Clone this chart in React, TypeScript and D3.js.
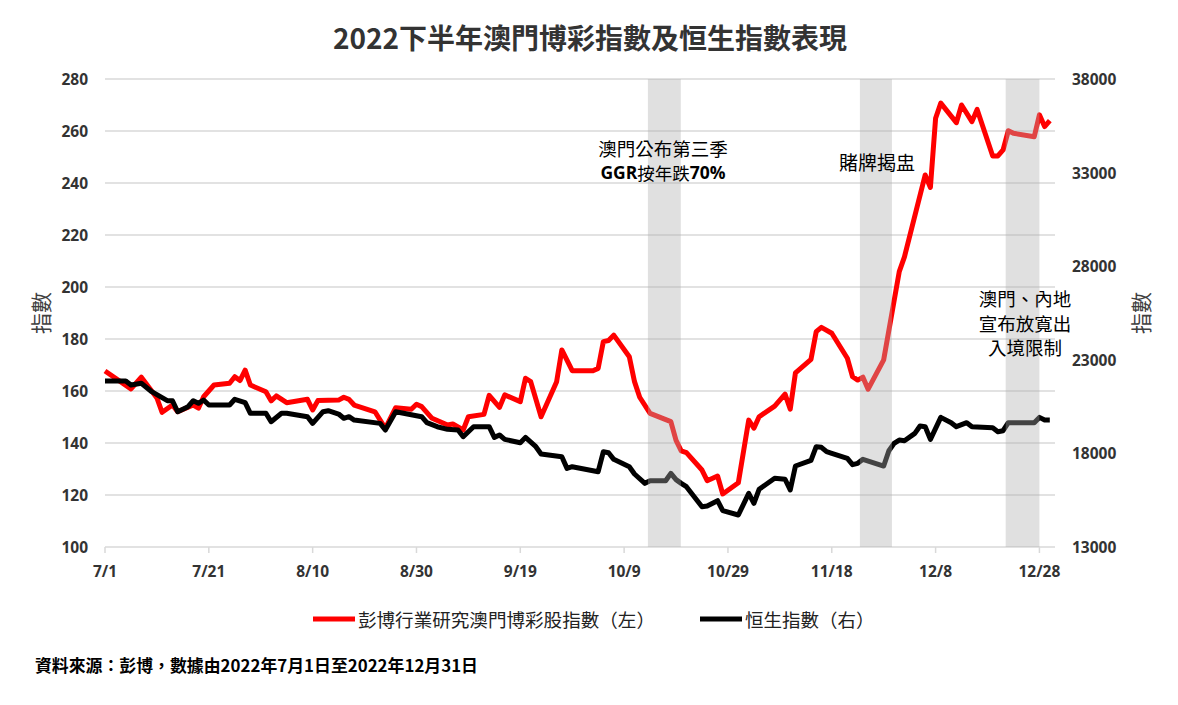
import React from 'react';
import * as d3 from 'd3';

// 彭博行業研究澳門博彩股指數 (left axis)
const gamingDates = [
  '07-01', '07-06', '07-08', '07-11', '07-12', '07-14', '07-15', '07-18', '07-19', '07-20',
  '07-22', '07-25', '07-26', '07-27', '07-28', '07-29', '08-01', '08-02', '08-03', '08-05',
  '08-09', '08-10', '08-11', '08-15', '08-16', '08-17', '08-18', '08-22', '08-24', '08-26',
  '08-29', '08-30', '08-31', '09-02', '09-05', '09-06', '09-08', '09-09', '09-12', '09-13',
  '09-15', '09-16', '09-19', '09-20', '09-21', '09-23', '09-26', '09-27', '09-29', '10-03',
  '10-04', '10-05', '10-06', '10-07', '10-10', '10-11', '10-12', '10-14', '10-18', '10-19',
  '10-20', '10-21', '10-24', '10-25', '10-27', '10-28', '10-31', '11-02', '11-03', '11-04',
  '11-07', '11-09', '11-10', '11-11', '11-14', '11-15', '11-16', '11-18', '11-21', '11-22',
  '11-23', '11-24', '11-25', '11-28', '12-01', '12-02', '12-06', '12-07', '12-08', '12-09',
  '12-12', '12-13', '12-15', '12-16', '12-19', '12-20', '12-21', '12-22', '12-23', '12-27',
  '12-28', '12-29', '12-30',
];
const gamingValues = [
  167.7, 160.8, 165.3, 157.3, 151.8, 154.6, 152.0, 154.6, 153.4, 157.8,
  162.3, 163.0, 165.5, 164.0, 168.0, 162.3, 159.7, 156.2, 158.1, 155.5,
  156.8, 152.7, 156.3, 156.5, 157.6, 156.8, 154.6, 152.0, 145.6, 153.6,
  153.0, 154.9, 154.0, 149.5, 146.9, 147.3, 145.0, 150.1, 151.0, 158.3,
  153.7, 158.5, 155.9, 164.9, 163.6, 150.1, 163.6, 175.8, 167.8, 167.8,
  168.7, 179.0, 179.4, 181.5, 173.2, 163.6, 157.6, 151.4, 148.2, 141.0,
  137.0, 136.3, 129.6, 125.5, 127.3, 120.4, 124.7, 148.8, 145.7, 150.1,
  154.2, 158.8, 153.0, 167.0, 172.2, 182.8, 184.5, 182.2, 172.6, 165.5,
  164.2, 165.3, 160.7, 172.0, 205.9, 211.6, 243.1, 238.3, 264.9, 270.7,
  263.2, 270.0, 263.6, 268.3, 250.4, 250.4, 252.7, 260.1, 259.1, 257.8,
  266.2, 261.7, 264.0,
];

// 恒生指數 (right axis)
const hsiDates = [
  '07-01', '07-05', '07-06', '07-08', '07-10', '07-13', '07-14', '07-15', '07-17', '07-18',
  '07-19', '07-20', '07-21', '07-25', '07-26', '07-28', '07-29', '08-01', '08-02', '08-04',
  '08-05', '08-09', '08-10', '08-12', '08-13', '08-15', '08-16', '08-17', '08-18', '08-23',
  '08-24', '08-26', '08-31', '09-01', '09-03', '09-05', '09-07', '09-08', '09-10', '09-13',
  '09-14', '09-15', '09-16', '09-19', '09-20', '09-22', '09-23', '09-27', '09-28', '09-29',
  '10-04', '10-05', '10-06', '10-07', '10-10', '10-11', '10-13', '10-14', '10-17', '10-18',
  '10-19', '10-20', '10-21', '10-24', '10-25', '10-27', '10-28', '10-31', '11-02', '11-03',
  '11-04', '11-07', '11-09', '11-10', '11-11', '11-14', '11-15', '11-16', '11-17', '11-18',
  '11-21', '11-22', '11-23', '11-24', '11-28', '11-29', '11-30', '12-01', '12-02', '12-04',
  '12-05', '12-06', '12-07', '12-09', '12-11', '12-12', '12-14', '12-15', '12-19', '12-20',
  '12-21', '12-22', '12-27', '12-28', '12-29', '12-30',
];
const hsiValues = [
  21867, 21867, 21654, 21744, 21296, 20815, 20815, 20227, 20494, 20815,
  20676, 20853, 20585, 20585, 20890, 20708, 20142, 20142, 19693, 20142,
  20142, 19960, 19604, 20227, 20280, 20104, 19875, 19960, 19783, 19604,
  19250, 20227, 19960, 19640, 19426, 19285, 19250, 18892, 19426, 19426,
  18856, 18982, 18748, 18572, 18856, 18358, 17967, 17823, 17200, 17290,
  17023, 18090, 18036, 17683, 17290, 16900, 16401, 16542, 16542, 16935,
  16600, 16400, 16221, 15153, 15189, 15473, 14939, 14709, 15868, 15334,
  16082, 16669, 16620, 16044, 17326, 17630, 18358, 18326, 18090, 18000,
  17738, 17400, 17470, 17683, 17326, 18143, 18539, 18715, 18679, 19070,
  19461, 19426, 18748, 19924, 19640, 19426, 19640, 19426, 19373, 19160,
  19213, 19640, 19640, 19924, 19783, 19783,
];

const leftTicks = [100, 120, 140, 160, 180, 200, 220, 240, 260, 280];
const rightTicks = [13000, 18000, 23000, 28000, 33000, 38000];
const xTickDates = ['07-01', '07-21', '08-10', '08-30', '09-19', '10-09', '10-29', '11-18', '12-08', '12-28'];

// shaded event windows
const bandStarts = ['10-13T14:00', '11-23T10:00', '12-21T12:00'];
const bandEnds = ['10-19T22:00', '11-29T14:00', '12-28T00:00'];

const title = '2022下半年澳門博彩指數及恒生指數表現';
const seriesNames = ['彭博行業研究澳門博彩股指數（左）', '恒生指數（右）'];
const source = '資料來源：彭博，數據由2022年7月1日至2022年12月31日';
const reopenNote = ['澳門、內地', '宣布放寬出', '入境限制'];

const parse = (s: string) => new Date(`2022-${s.includes('T') ? s : s + 'T00:00'}`);

const W = 1178;
const H = 705;
const cjk = '"Noto Sans CJK TC", "Noto Sans", sans-serif';
const num = '"Open Sans", "Noto Sans CJK TC", sans-serif';

export default function App() {
  const x = d3.scaleTime().domain([parse('07-01'), parse('12-31')]).range([105, 1055]);
  const yL = d3.scaleLinear().domain([100, 280]).range([547, 79]);
  const yR = d3.scaleLinear().domain([13000, 38000]).range([547, 79]);

  const gaming = gamingDates.map((d, i) => ({ date: parse(d), v: gamingValues[i] }));
  const hsi = hsiDates.map((d, i) => ({ date: parse(d), v: hsiValues[i] }));

  const gamingLine = d3.line<{ date: Date; v: number }>().x(d => x(d.date)).y(d => yL(d.v));
  const hsiLine = d3.line<{ date: Date; v: number }>().x(d => x(d.date)).y(d => yR(d.v));

  const [x0, x1] = x.range();

  return (
    <svg width={W} height={H} style={{ position: 'absolute', left: 0, top: 0, display: 'block', background: '#fff' }}>
      <text x={590} y={37} textAnchor="middle" dominantBaseline="central"
        fontFamily={cjk} fontWeight="bold" fontSize={28} fill="#333">{title}</text>

      {/* grid */}
      {leftTicks.map(t => (
        <line key={t} x1={x0} x2={x1} y1={yL(t)} y2={yL(t)} stroke="#d9d9d9" strokeWidth={1.5} />
      ))}
      {xTickDates.map(d => (
        <line key={d} x1={x(parse(d))} x2={x(parse(d))} y1={547} y2={553} stroke="#d9d9d9" strokeWidth={1.5} />
      ))}

      {/* left ticks */}
      {leftTicks.map(t => (
        <text key={t} x={88} y={yL(t)} textAnchor="end" dominantBaseline="central"
          fontFamily={num} fontWeight="bold" fontSize={15.5} fill="#333">{t}</text>
      ))}
      {/* right ticks */}
      {rightTicks.map(t => (
        <text key={t} x={1072} y={yR(t)} textAnchor="start" dominantBaseline="central"
          fontFamily={num} fontWeight="bold" fontSize={15.5} fill="#333">{t}</text>
      ))}
      {xTickDates.map(d => {
        const dt = parse(d);
        return (
          <text key={d} x={x(dt)} y={571} textAnchor="middle" dominantBaseline="central"
            fontFamily={num} fontWeight="bold" fontSize={15.5} fill="#333">
            {`${dt.getMonth() + 1}/${dt.getDate()}`}
          </text>
        );
      })}

      <text transform="translate(40,313) rotate(-90)" textAnchor="middle" dominantBaseline="central"
        fontFamily={cjk} fontSize={21} fill="#404040">指數</text>
      <text transform="translate(1140,313) rotate(-90)" textAnchor="middle" dominantBaseline="central"
        fontFamily={cjk} fontSize={21} fill="#404040">指數</text>

      {/* series */}
      <path d={gamingLine(gaming) || ''} fill="none" stroke="#ff0000" strokeWidth={5} strokeLinejoin="round" />
      <path d={hsiLine(hsi) || ''} fill="none" stroke="#000" strokeWidth={5} strokeLinejoin="round" />

      {/* event bands drawn over the lines */}
      {bandStarts.map((s, i) => (
        <rect key={s} x={x(parse(s))} y={79} width={x(parse(bandEnds[i])) - x(parse(s))} height={468}
          fill="rgb(175,175,175)" fillOpacity={0.39} />
      ))}

      {/* annotations */}
      <text x={663} y={148} textAnchor="middle" dominantBaseline="central" fontFamily={cjk} fontSize={18.5} fill="#000">澳門公布第三季</text>
      <text x={663} y={172} textAnchor="middle" dominantBaseline="central" fontFamily={cjk} fontSize={17.5} fill="#000">
        <tspan fontFamily={num} fontWeight="bold">GGR</tspan>
        <tspan>按年跌</tspan>
        <tspan fontFamily={num} fontWeight="bold">70%</tspan>
      </text>
      <text x={877} y={161} textAnchor="middle" dominantBaseline="central" fontFamily={cjk} fontSize={19} fill="#000">賭牌揭盅</text>
      {reopenNote.map((t, i) => (
        <text key={t} x={1025} y={298 + i * 24.5} textAnchor="middle" dominantBaseline="central"
          fontFamily={cjk} fontSize={18.5} fill="#000">{t}</text>
      ))}

      {/* legend */}
      <line x1={313} x2={355} y1={619} y2={619} stroke="#ff0000" strokeWidth={5} />
      <text x={358} y={619} dominantBaseline="central" fontFamily={cjk} fontSize={18.5} fill="#222"
        textLength={297} lengthAdjust="spacingAndGlyphs">{seriesNames[0]}</text>
      <line x1={700} x2={742} y1={619} y2={619} stroke="#000" strokeWidth={5} />
      <text x={745} y={619} dominantBaseline="central" fontFamily={cjk} fontSize={18.5} fill="#222">{seriesNames[1]}</text>

      <text x={35} y={665} dominantBaseline="central" fontFamily={cjk} fontWeight="bold" fontSize={16.5} fill="#000"
        textLength={443} lengthAdjust="spacingAndGlyphs">{source}</text>
    </svg>
  );
}
